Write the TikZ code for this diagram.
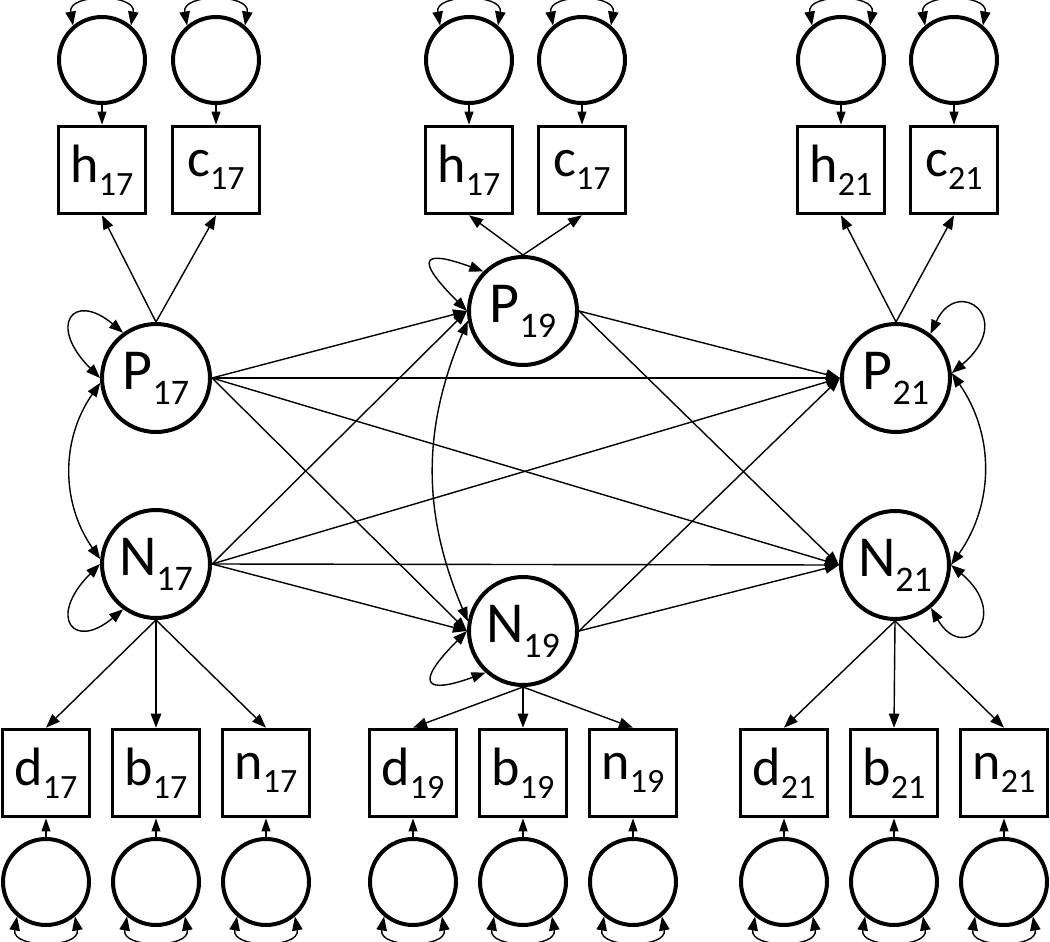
\documentclass[tikz,border=0pt]{standalone}
\usepackage{fontspec}
\setmainfont{Carlito}
\usetikzlibrary{arrows.meta}
\newcommand{\latl}[2]{\fontsize{29}{30}\selectfont #1\raisebox{-7.5pt}{\fontsize{18}{18}\selectfont #2}}
\newcommand{\obsl}[2]{\fontsize{27}{28}\selectfont #1\raisebox{-6.5pt}{\fontsize{17}{17}\selectfont #2}}
\begin{document}
\begin{tikzpicture}[x=0.5pt,y=0.5pt,
  latent/.style={circle,draw,line width=2pt,minimum size=54pt,inner sep=0pt},
  errc/.style={circle,draw,line width=2pt,minimum size=43pt,inner sep=0pt},
  obs/.style={rectangle,draw,line width=1.8pt,minimum width=43.5pt,minimum height=43.5pt,inner sep=0pt},
  tip/.tip={Triangle[length=7pt,width=5.2pt]},
  stip/.tip={Triangle[length=6.5pt,width=4.4pt]},
  pth/.style={line width=0.7pt,-tip},
  epth/.style={line width=0.7pt,-stip},
  cov/.style={line width=0.7pt,tip-tip}]
\useasboundingbox (0,0) rectangle (1050,-942);
\fill[white] (0,0) rectangle (1050,-942);
% top error circles
\node[errc] (eh17) at (102,-60) {};
\node[errc] (ec17) at (216,-60) {};
\node[errc] (eh19) at (469,-60) {};
\node[errc] (ec19) at (582,-60) {};
\node[errc] (eh21) at (841,-60) {};
\node[errc] (ec21) at (954,-60) {};
% top indicators
\node[obs] (h17) at (102,-170) {\obsl{h}{17}};
\node[obs] (c17) at (216,-170) {\obsl{c}{17}};
\node[obs] (h19) at (469,-170) {\obsl{h}{17}};
\node[obs] (c19) at (582,-170) {\obsl{c}{17}};
\node[obs] (h21) at (841,-170) {\obsl{h}{21}};
\node[obs] (c21) at (954,-170) {\obsl{c}{21}};
% latents
\node[latent] (P17) at (156,-378) {\latl{P}{17}};
\node[latent] (N17) at (156,-564) {\latl{N}{17}};
\node[latent] (P19) at (523,-311) {\latl{P}{19}};
\node[latent] (N19) at (523,-631) {\latl{N}{19}};
\node[latent] (P21) at (896,-378) {\latl{P}{21}};
\node[latent] (N21) at (895,-565) {\latl{N}{21}};
% bottom indicators
\node[obs] (d17) at (46,-773) {\obsl{d}{17}};
\node[obs] (b17) at (156,-773) {\obsl{b}{17}};
\node[obs] (n17) at (266,-773) {\obsl{n}{17}};
\node[obs] (d19) at (413,-773) {\obsl{d}{19}};
\node[obs] (b19) at (523,-773) {\obsl{b}{19}};
\node[obs] (n19) at (633,-773) {\obsl{n}{19}};
\node[obs] (d21) at (784,-773) {\obsl{d}{21}};
\node[obs] (b21) at (894,-773) {\obsl{b}{21}};
\node[obs] (n21) at (1004,-773) {\obsl{n}{21}};
% bottom error circles
\node[errc] (ed17) at (46,-882) {};
\node[errc] (eb17) at (156,-882) {};
\node[errc] (en17) at (266,-882) {};
\node[errc] (ed19) at (413,-882) {};
\node[errc] (eb19) at (523,-882) {};
\node[errc] (en19) at (633,-882) {};
\node[errc] (ed21) at (784,-882) {};
\node[errc] (eb21) at (894,-882) {};
\node[errc] (en21) at (1004,-882) {};
% error -> indicator
\foreach \e/\o in {eh17/h17,ec17/c17,eh19/h19,ec19/c19,eh21/h21,ec21/c21}{
  \draw[epth] (\e.south) -- (\o.north);
  \draw[cov] (\e.130) to[out=100,in=80,looseness=1.45] (\e.50);
}
\foreach \e/\o in {ed17/d17,eb17/b17,en17/n17,ed19/d19,eb19/b19,en19/n19,ed21/d21,eb21/b21,en21/n21}{
  \draw[epth] (\e.north) -- (\o.south);
  \draw[cov] (\e.230) to[out=260,in=280,looseness=1.45] (\e.310);
}
% loadings
\draw[pth] (P17.north) -- (h17.south);
\draw[pth] (P17.north) -- (c17.south);
\draw[pth] (P19.north) -- (h19.south);
\draw[pth] (P19.north) -- (c19.south);
\draw[pth] (P21.north) -- (h21.south);
\draw[pth] (P21.north) -- (c21.south);
\foreach \s/\a/\b/\c in {N17/d17/b17/n17,N19/d19/b19/n19,N21/d21/b21/n21}{
  \draw[pth] (\s.south) -- (\a.north);
  \draw[pth] (\s.south) -- (\b.north);
  \draw[pth] (\s.south) -- (\c.north);
}
% structural paths
\foreach \s in {P17,N17}{
  \foreach \t in {P19,N19,P21,N21}{
    \draw[pth] (\s.east) -- (\t.west);
  }
}
\foreach \s in {P19,N19}{
  \foreach \t in {P21,N21}{
    \draw[pth] (\s.east) -- (\t.west);
  }
}
% covariances
\draw[cov] (P17.185) to[bend right=35] (N17.175);
\draw[cov] (P19.190) to[bend right=23] (N19.170);
\draw[cov] (P21.5) to[bend left=35] (N21.0);
% self loops
\draw[cov] (P17.180) .. controls +(135:75) and +(140:65) .. (P17.126);
\draw[cov] (N17.180) .. controls +(225:75) and +(220:65) .. (N17.234);
\draw[cov] (P19.180) .. controls +(135:75) and +(160:65) .. (P19.135);
\draw[cov] (N19.180) .. controls +(225:75) and +(200:65) .. (N19.228);
\draw[cov] (P21.5) .. controls +(40:85) and +(65:65) .. (P21.52);
\draw[cov] (N21.0) .. controls +(-40:80) and +(-60:65) .. (N21.310);
\end{tikzpicture}
\end{document}
